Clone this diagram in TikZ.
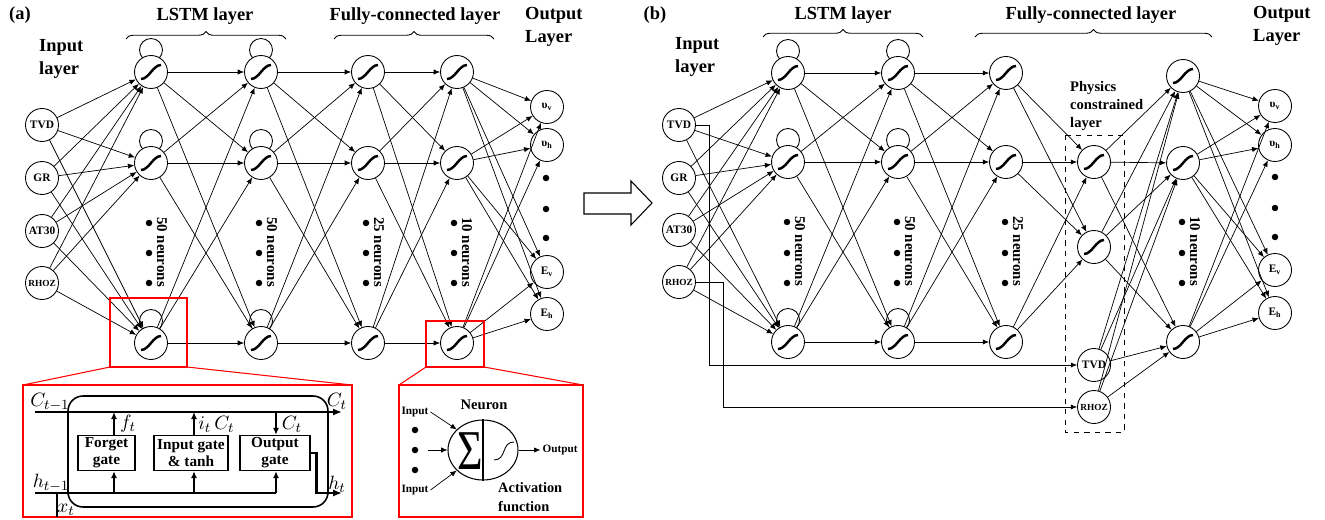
\documentclass[tikz,border=0pt]{standalone}
\usepackage{fontspec}
\setmainfont{Liberation Serif}
\usetikzlibrary{arrows.meta,shapes.geometric,decorations.pathreplacing}
\tikzstyle{unit}=[circle, draw=black, fill=white, line width=0.5pt, minimum size=0.66cm, inner sep=0pt, font=\bfseries\fontsize{6.5}{7}\selectfont]
\tikzstyle{sigmoid}=[unit, path picture={\draw[line width=1.4pt] ([shift={(-10,7)}]path picture bounding box.center) .. controls +(8,0) and +(-8,0) .. ([shift={(10,-7)}]path picture bounding box.center);}]
\tikzstyle{wire}=[draw=black, line width=0.4pt, -{Latex[length=3.6pt, width=3pt]}]
\tikzstyle{heading}=[font=\bfseries\fontsize{10.5}{12.8}\selectfont, align=left]
\tikzstyle{headbrace}=[decorate, decoration={brace, amplitude=0.15cm}, line width=0.5pt]
\tikzstyle{neurons}=[font=\bfseries\fontsize{8.5}{10}\selectfont, rotate=-90]
\tikzstyle{blob}=[circle, fill=black, inner sep=0pt, minimum size=0.13cm]
\tikzstyle{zoomline}=[draw=red, line width=0.6pt]
\tikzstyle{gatebox}=[draw=black, line width=0.8pt, minimum width=1.14cm, minimum height=0.7cm, inner sep=1pt, align=center, font=\bfseries\fontsize{8.7}{9.6}\selectfont]
\tikzstyle{bus}=[line width=1.6pt]
\tikzstyle{gatearrow}=[line width=1pt, -{Latex[length=4pt, width=3.5pt]}]
\tikzstyle{cellmath}=[font=\fontsize{11}{12}\selectfont, inner sep=0pt]
\tikzstyle{tinytext}=[font=\bfseries\fontsize{6.4}{7}\selectfont, inner sep=1pt]

\begin{document}
\begin{tikzpicture}[x=0.02cm, y=-0.02cm]
	\useasboundingbox (0,0) rectangle (1325,520);

	% panel (a)
	\node[heading] (la) at (20,15) {(a)};
	\node[heading, anchor=west] (ina) at (33,59) {Input\\layer};
	\node[heading] (lstma) at (205,16) {LSTM layer};
	\node[heading] (fca) at (415,16) {Fully-connected layer};
	\node[heading, anchor=west] (outa) at (519,27) {Output\\Layer};
	\draw[headbrace] (126,39) -- (286,39);
	\draw[headbrace] (334,39) -- (494,39);

	\foreach \x in {151,261} \foreach \y in {72,163,343}
		\draw[line width=0.5pt] (\x,\y-22) circle[radius=11.5];

	\node[unit](ai1) at (42,125) {TVD};
	\node[unit](ai2) at (42,178) {GR};
	\node[unit](ai3) at (42,231) {AT30};
	\node[unit, font=\bfseries\fontsize{5.3}{6}\selectfont](ai4) at (42,283) {RHOZ};
	\foreach \y [count=\k] in {72,163,343} {
		\node[sigmoid](al\k) at (151,\y) {};
		\node[sigmoid](am\k) at (261,\y) {};
		\node[sigmoid](af\k) at (368,\y) {};
		\node[sigmoid](ag\k) at (457,\y) {};
	}
	\node[unit](ao1) at (547,107) {υ\textsubscript{v}};
	\node[unit](ao2) at (547,145) {υ\textsubscript{h}};
	\node[unit](ao3) at (547,272) {E\textsubscript{v}};
	\node[unit](ao4) at (547,314) {E\textsubscript{h}};

	\foreach \i in {1,...,4} \foreach \j in {1,2,3}
		\draw[wire] (ai\i) -- (al\j);
	\foreach \i in {1,2,3} \foreach \j in {1,2,3} {
		\draw[wire] (al\i) -- (am\j);
		\draw[wire] (am\i) -- (af\j);
		\draw[wire] (af\i) -- (ag\j);
	}
	\foreach \i in {1,2,3} \foreach \j in {1,...,4}
		\draw[wire] (ag\i) -- (ao\j);

	\foreach \x/\n in {151/50,261/50,368/25,456/10} {
		\foreach \y in {223,253,283} \node[blob] at (\x-2,\y) {};
		\node[neurons] at (\x+11,252) {\n{} neurons};
	}
	\foreach \y in {178,209,238} \node[blob] at (546,\y) {};

	% LSTM cell
	\draw[zoomline] (110,298) rectangle (187,367);
	\draw[zoomline] (110,367) -- (23,385) (187,367) -- (352,385);
	\draw[zoomline] (23,385) rectangle (352,517);
	\draw[line width=0.9pt, rounded corners=0.3cm] (68,396) rectangle (328,507);
	\node[gatebox](fg) at (106.5,453) {Forget\\gate};
	\node[gatebox, minimum width=1.48cm](ig) at (191,453) {Input gate\\\& tanh};
	\node[gatebox, minimum width=1.4cm](og) at (275,453) {Output\\gate};
	\coordinate (c0) at (35,412);
	\coordinate (c1) at (342,412);
	\coordinate (cf) at (114,412);
	\coordinate (ci) at (194,412);
	\coordinate (co) at (276,412);
	\coordinate (h0) at (35,493);
	\coordinate (hx) at (57,493);
	\coordinate (x0) at (57,517);
	\coordinate (hf) at (114,493);
	\coordinate (hi) at (194,493);
	\coordinate (ho) at (276,493);
	\coordinate (h1) at (342,493);
	\draw[bus, -{Latex[length=5pt, width=4pt]}] (c0) -- (c1);
	\draw[bus] (h0) -- (ho);
	\draw[bus] (hx) -- (x0);
	\draw[bus, -{Latex[length=5pt, width=4pt]}] (og.east) -- ++(6,0) |- (h1);
	\draw[gatearrow] (fg.north -| cf) -- (cf);
	\draw[gatearrow] (ig.north -| ci) -- (ci);
	\draw[gatearrow] (co) -- (og.north -| co);
	\draw[gatearrow] (hf) -- (fg.south -| hf);
	\draw[gatearrow] (hi) -- (ig.south -| hi);
	\draw[gatearrow] (ho) -- (og.south -| ho);
	\node[cellmath] at (50,402) {$C_{t-1}$};
	\node[cellmath] at (337,401) {$C_t$};
	\node[cellmath] at (128,424) {$f_t$};
	\node[cellmath, anchor=west] at (198,422) {$i_t\,\tilde{C}_t$};
	\node[cellmath] at (292,424) {$C_t$};
	\node[cellmath] at (51,483) {$h_{t-1}$};
	\node[cellmath] at (337,484) {$h_t$};
	\node[cellmath] at (66,510) {$x_t$};

	% neuron
	\draw[zoomline] (426,321) rectangle (484,367);
	\draw[zoomline] (426,367) -- (399,385) (484,367) -- (583,385);
	\draw[zoomline] (399,385) rectangle (583,517);
	\node[ellipse, draw=black, line width=0.6pt, minimum width=1.4cm, minimum height=1.2cm, inner sep=0pt](nrn) at (483,450) {};
	\draw[line width=0.6pt] (nrn.north) -- (nrn.south);
	\node[font=\fontsize{32}{32}\selectfont, xscale=0.78, inner sep=0pt] at (470,451) {Σ};
	\draw[line width=0.5pt] (494,460) .. controls (507,460) and (501,442) .. (514,442);
	\node[font=\bfseries\fontsize{8.3}{9}\selectfont] at (484,405) {Neuron};
	\node[tinytext](inp1) at (415,412) {Input};
	\node[tinytext](inp2) at (415,490) {Input};
	\node[tinytext](outp) at (560,450) {Output};
	\coordinate (mid) at (428,450);
	\foreach \y in {430,450,470} \node[blob] at (415,\y) {};
	\draw[wire] (inp1.east) -- (nrn.142);
	\draw[wire] (inp2.east) -- (nrn.218);
	\draw[wire] (mid) -- (nrn.west);
	\draw[wire] (nrn.east) -- (outp.west);
	\node[font=\bfseries\fontsize{8.2}{10.8}\selectfont, align=left, anchor=west] at (492,497) {Activation\\function};

	% arrow between panels
	\draw[line width=0.6pt] (584,193) -- (631,193) -- (631,181) -- (652,203) -- (631,225) -- (631,214) -- (584,214) -- cycle;

	% panel (b)
	\node[heading] (lb) at (655,15) {(b)};
	\node[heading, anchor=west] (inb) at (669,57) {Input\\layer};
	\node[heading] (lstmb) at (843,15) {LSTM layer};
	\node[heading] (fcb) at (1091,15) {Fully-connected layer};
	\node[heading, anchor=west] (outb) at (1247,26) {Output\\Layer};
	\draw[headbrace] (763,37) -- (923,37);
	\draw[headbrace] (975,37) -- (1212,37);
	\node[font=\bfseries\fontsize{8.3}{10.2}\selectfont, align=left, anchor=west] at (1064,106) {Physics\\constrained\\layer};
	\draw[dashed, line width=0.5pt] (1065,135) rectangle (1124,432);

	\foreach \x in {788,898} \foreach \y in {73,162,342}
		\draw[line width=0.5pt] (\x,\y-22) circle[radius=11.5];

	\node[unit](bi1) at (679,125) {TVD};
	\node[unit](bi2) at (679,178) {GR};
	\node[unit](bi3) at (679,230) {AT30};
	\node[unit, font=\bfseries\fontsize{5.3}{6}\selectfont](bi4) at (679,282) {RHOZ};
	\foreach \y [count=\k] in {73,162,342} {
		\node[sigmoid](bl\k) at (788,\y) {};
		\node[sigmoid](bm\k) at (898,\y) {};
		\node[sigmoid](bf\k) at (1006,\y) {};
	}
	\node[sigmoid](bp1) at (1094,162) {};
	\node[sigmoid](bp2) at (1094,247) {};
	\node[unit](bp3) at (1094,365) {TVD};
	\node[unit, font=\bfseries\fontsize{5.3}{6}\selectfont](bp4) at (1094,407) {RHOZ};
	\foreach \y [count=\k] in {76,163,342}
		\node[sigmoid](bg\k) at (1183,\y) {};
	\node[unit](bo1) at (1275,106) {υ\textsubscript{v}};
	\node[unit](bo2) at (1275,145) {υ\textsubscript{h}};
	\node[unit](bo3) at (1275,270) {E\textsubscript{v}};
	\node[unit](bo4) at (1275,313) {E\textsubscript{h}};

	\foreach \i in {1,...,4} \foreach \j in {1,2,3}
		\draw[wire] (bi\i) -- (bl\j);
	\foreach \i in {1,2,3} \foreach \j in {1,2,3} {
		\draw[wire] (bl\i) -- (bm\j);
		\draw[wire] (bm\i) -- (bf\j);
	}
	\foreach \i in {1,2,3} \foreach \j in {1,2}
		\draw[wire] (bf\i) -- (bp\j);
	\foreach \i in {1,...,4} \foreach \j in {1,2,3}
		\draw[wire] (bp\i) -- (bg\j);
	\foreach \i in {1,2,3} \foreach \j in {1,...,4}
		\draw[wire] (bg\i) -- (bo\j);
	\draw[wire] (bi1.east) -- ++(13,0) |- (bp3);
	\draw[wire] (bi4.east) -- ++(27,0) |- (bp4);

	\foreach \x/\n in {788/50,898/50,1006/25,1183/10} {
		\foreach \y in {222,253,283} \node[blob] at (\x-1,\y) {};
		\node[neurons] at (\x+12,251) {\n{} neurons};
	}
	\foreach \y in {177,208,237} \node[blob] at (1275,\y) {};
\end{tikzpicture}
\end{document}
